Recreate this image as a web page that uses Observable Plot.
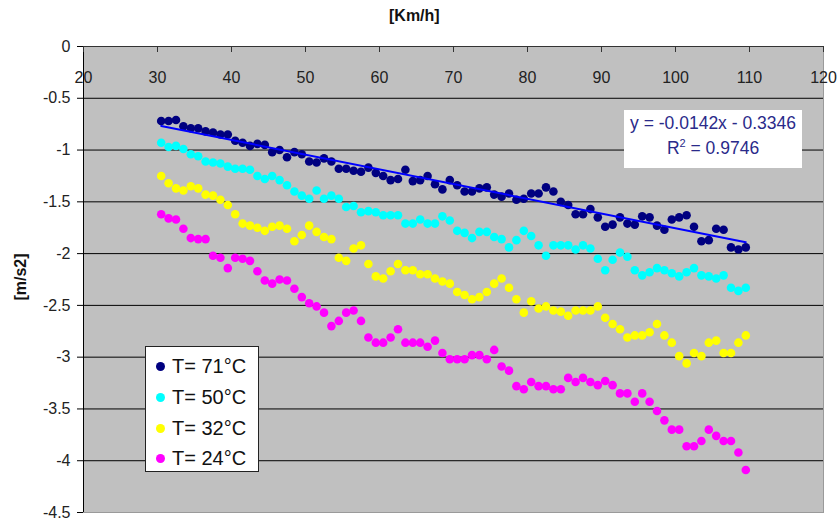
<!DOCTYPE html>
<html><head><meta charset="utf-8">
<script src="https://cdn.jsdelivr.net/npm/d3@7"></script>
<script src="https://cdn.jsdelivr.net/npm/@observablehq/plot@0.6"></script>
<style>
body{margin:0;background:#fff;font-family:"Liberation Sans",Arial,sans-serif;}
#wrap{position:relative;width:838px;height:523px;overflow:hidden;}
#wrap svg{position:absolute;left:0;top:0;}
.title{position:absolute;left:389px;top:8px;font-weight:bold;font-size:16px;line-height:16px;color:#111;white-space:nowrap;}
.ylab{position:absolute;left:21px;top:277px;transform:translate(-50%,-50%) rotate(-90deg);font-weight:bold;font-size:16px;line-height:16px;color:#111;white-space:nowrap;}
.legend{position:absolute;left:145px;top:346px;width:114px;height:126px;box-sizing:border-box;background:#fff;border:1px solid #222;}
.legend .row{position:absolute;left:0;height:24px;width:112px;}
.legend .sw{position:absolute;left:10px;top:8px;width:9px;height:9px;border-radius:50%;}
.legend .lb{position:absolute;left:26px;top:0;font-size:20px;line-height:24px;color:#111;white-space:nowrap;}
.eq{position:absolute;left:624px;top:110px;width:178px;height:58px;background:#fff;color:#2a2a8a;font-size:17.5px;}
.eq div{position:absolute;left:0;width:178px;text-align:center;line-height:20px;white-space:nowrap;}
.eq sup{font-size:11px;line-height:0;vertical-align:7px;}
</style></head><body><div id="wrap"></div>
<script>
// x values [Km/h]
const speed = [30.5,31.5,32.5,33.5,34.5,35.5,36.5,37.5,38.5,39.5,40.5,41.5,42.5,43.5,44.5,45.5,46.5,47.5,48.5,49.5,50.5,51.5,52.5,53.5,54.5,55.5,56.5,57.5,58.5,59.5,60.5,61.5,62.5,63.5,64.5,65.5,66.5,67.5,68.5,69.5,70.5,71.5,72.5,73.5,74.5,75.5,76.5,77.5,78.5,79.5,80.5,81.5,82.5,83.5,84.5,85.5,86.5,87.5,88.5,89.5,90.5,91.5,92.5,93.5,94.5,95.5,96.5,97.5,98.5,99.5,100.5,101.5,102.5,103.5,104.5,105.5,106.5,107.5,108.5,109.5];

// deceleration [m/s2] per temperature
const t71 = [-0.72,-0.72,-0.71,-0.77,-0.79,-0.79,-0.82,-0.83,-0.85,-0.85,
-0.91,-0.93,-0.96,-0.94,-0.95,-1.02,-1.00,-1.07,-1.02,-1.04,
-1.11,-1.12,-1.08,-1.11,-1.18,-1.18,-1.20,-1.21,-1.17,-1.22,
-1.25,-1.29,-1.28,-1.19,-1.30,-1.29,-1.25,-1.33,-1.38,-1.29,
-1.34,-1.40,-1.40,-1.37,-1.36,-1.43,-1.45,-1.42,-1.48,-1.47,
-1.42,-1.42,-1.36,-1.40,-1.50,-1.53,-1.62,-1.62,-1.57,-1.65,
-1.74,-1.72,-1.65,-1.71,-1.72,-1.64,-1.65,-1.73,-1.77,-1.67,
-1.65,-1.63,-1.74,-1.88,-1.87,-1.76,-1.77,-1.94,-1.96,-1.94];

const t50 = [-0.93,-0.97,-0.96,-0.99,-1.04,-1.06,-1.11,-1.12,-1.13,-1.16,
-1.18,-1.18,-1.19,-1.25,-1.28,-1.25,-1.29,-1.34,-1.40,-1.44,
-1.47,-1.39,-1.47,-1.44,-1.47,-1.55,-1.54,-1.60,-1.59,-1.60,
-1.63,-1.63,-1.63,-1.71,-1.71,-1.67,-1.71,-1.71,-1.64,-1.68,
-1.78,-1.80,-1.85,-1.79,-1.79,-1.84,-1.86,-1.94,-1.87,-1.78,
-1.83,-1.92,-2.02,-1.92,-1.92,-1.92,-1.96,-1.92,-1.95,-2.05,
-2.16,-2.06,-1.99,-2.03,-2.16,-2.21,-2.18,-2.14,-2.16,-2.19,
-2.22,-2.18,-2.14,-2.21,-2.22,-2.24,-2.21,-2.33,-2.36,-2.33];

const t32 = [-1.25,-1.32,-1.37,-1.39,-1.35,-1.37,-1.43,-1.44,-1.48,-1.53,
-1.62,-1.71,-1.73,-1.75,-1.78,-1.74,-1.73,-1.76,-1.88,-1.82,
-1.73,-1.79,-1.84,-1.86,-2.04,-2.07,-1.95,-1.92,-2.10,-2.22,
-2.24,-2.17,-2.10,-2.16,-2.16,-2.20,-2.20,-2.24,-2.27,-2.29,
-2.37,-2.40,-2.44,-2.42,-2.37,-2.29,-2.24,-2.33,-2.44,-2.57,
-2.46,-2.53,-2.51,-2.55,-2.56,-2.60,-2.55,-2.55,-2.55,-2.51,
-2.62,-2.68,-2.73,-2.81,-2.79,-2.79,-2.76,-2.68,-2.79,-2.86,
-2.99,-3.06,-2.96,-2.99,-2.86,-2.84,-2.96,-2.96,-2.86,-2.79];

const t24 = [-1.62,-1.66,-1.67,-1.76,-1.85,-1.86,-1.86,-2.02,-2.04,-2.14,
-2.04,-2.05,-2.07,-2.17,-2.26,-2.29,-2.25,-2.26,-2.34,-2.42,
-2.48,-2.51,-2.57,-2.70,-2.65,-2.57,-2.55,-2.65,-2.81,-2.86,
-2.86,-2.81,-2.73,-2.86,-2.86,-2.86,-2.90,-2.84,-2.96,-3.02,
-3.02,-3.02,-2.98,-2.98,-3.02,-2.93,-3.09,-3.13,-3.28,-3.31,
-3.24,-3.28,-3.28,-3.31,-3.31,-3.20,-3.24,-3.20,-3.24,-3.27,
-3.23,-3.27,-3.35,-3.35,-3.43,-3.35,-3.43,-3.52,-3.61,-3.70,
-3.70,-3.86,-3.86,-3.81,-3.70,-3.76,-3.81,-3.81,-3.92,-4.09];

const seriesNames = ["T= 71°C","T= 50°C","T= 32°C","T= 24°C"];
const seriesColors = ["#000080","#00ffff","#ffff00","#ff00ff"];
const seriesValues = [t71, t50, t32, t24];

// linear trend of T= 71°C as printed on the chart
const trendSlope = -0.0142;
const trendIntercept = -0.3346;
const trendRange = [30.5, 109.5];

const xTicks = [20,30,40,50,60,70,80,90,100,110,120];
const yTicks = [0,-0.5,-1,-1.5,-2,-2.5,-3,-3.5,-4,-4.5];
const gridValues = [-0.5,-1,-1.5,-2,-2.5,-3,-3.5,-4];

const points = seriesNames.flatMap((s, k) => speed.map((x, i) => ({x, y: seriesValues[k][i], s})));
const trend = trendRange.map(x => ({x, y: trendSlope * x + trendIntercept}));

const W = 838, H = 523, mT = 46, mB = 11, mL = 83, mR = 15;
const chart = Plot.plot({
  width: W, height: H,
  marginTop: mT, marginBottom: mB, marginLeft: mL, marginRight: mR,
  x: {domain: [20, 120], axis: null},
  y: {domain: [-4.5, 0], axis: null},
  color: {domain: seriesNames, range: seriesColors},
  style: {fontFamily: "'Liberation Sans', Arial, sans-serif", background: "#fff", overflow: "visible"},
  marks: [
    Plot.frame({fill: "#c0c0c0", stroke: "#9a9a9a"}),
    Plot.gridY(gridValues, {stroke: "#000", strokeOpacity: 1, strokeWidth: 1}),
    Plot.ruleY([0], {stroke: "#333"}),
    Plot.ruleX([20], {stroke: "#000"}),
    Plot.tickX(xTicks, {x: d => d, stroke: "#333", insetBottom: H - mT - mB - 6}),
    Plot.axisY(yTicks, {anchor: "left", label: null, tickSize: 6, tickPadding: 7, tickFormat: d => String(d), fontSize: 16, fill: "#222", stroke: "#000"}),
    Plot.text(xTicks, {x: d => d, frameAnchor: "top", dy: 25, text: d => String(d), fontSize: 16, fill: "#222"}),
    Plot.dot(points, {x: "x", y: "y", fill: "s", r: 4.3}),
    Plot.line(trend, {x: "x", y: "y", stroke: "#0000ff", strokeWidth: 2})
  ]
});

const wrap = document.getElementById("wrap");
wrap.appendChild(chart);

const title = document.createElement("div");
title.className = "title"; title.textContent = "[Km/h]";
wrap.appendChild(title);

const ylab = document.createElement("div");
ylab.className = "ylab"; ylab.textContent = "[m/s2]";
wrap.appendChild(ylab);

const legend = document.createElement("div");
legend.className = "legend";
seriesNames.forEach((name, k) => {
  const row = document.createElement("div");
  row.className = "row";
  row.style.top = (7 + k * 30.8) + "px";
  const sw = document.createElement("div");
  sw.className = "sw"; sw.style.background = seriesColors[k];
  const lb = document.createElement("div");
  lb.className = "lb"; lb.textContent = name;
  row.appendChild(sw); row.appendChild(lb);
  legend.appendChild(row);
});
wrap.appendChild(legend);

const eq = document.createElement("div");
eq.className = "eq";
const l1 = document.createElement("div");
l1.style.top = "3px";
l1.textContent = `y = ${trendSlope}x - ${Math.abs(trendIntercept)}`;
const l2 = document.createElement("div");
l2.style.top = "28px";
l2.innerHTML = "R<sup>2</sup> = 0.9746";
eq.appendChild(l1); eq.appendChild(l2);
wrap.appendChild(eq);
</script></body></html>
